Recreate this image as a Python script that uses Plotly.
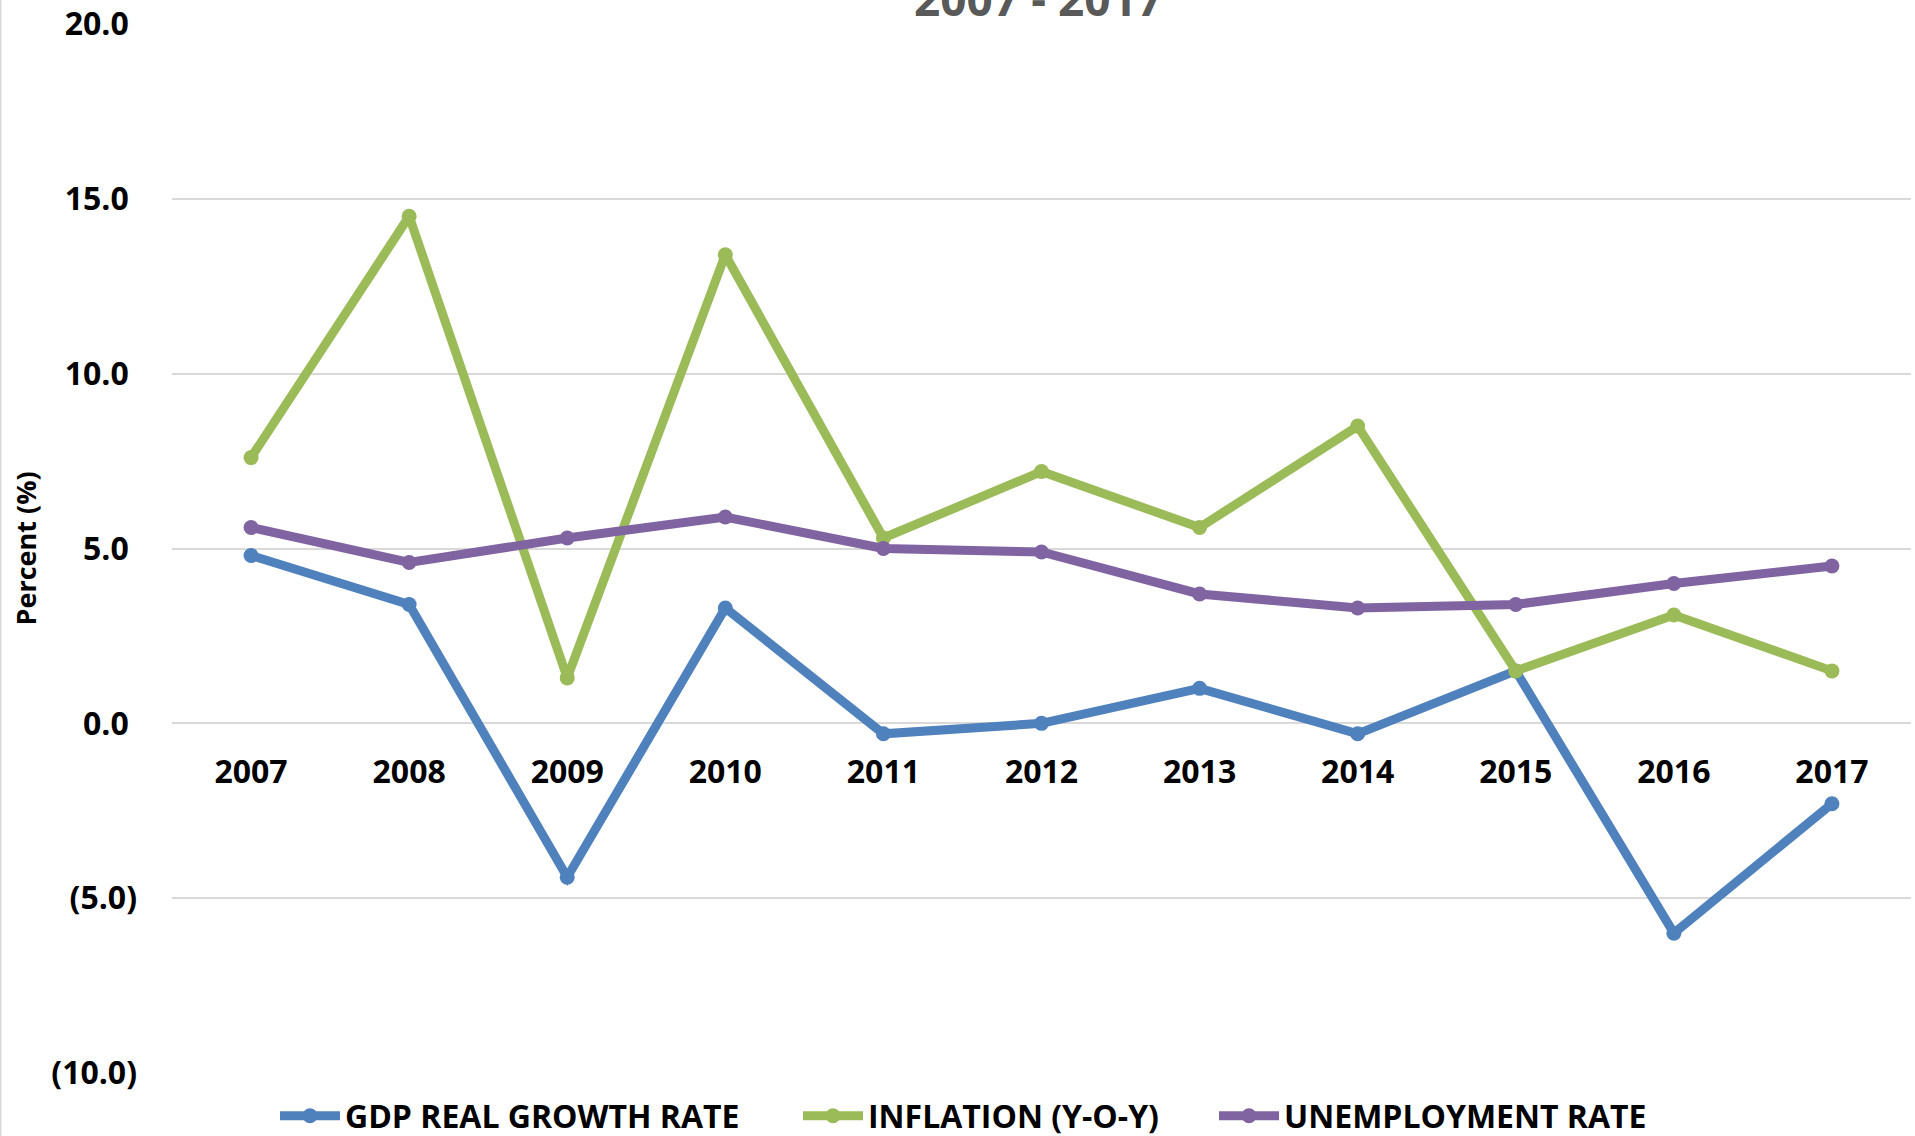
import plotly.graph_objects as go

# Annual indicators, 2007 - 2017 (percent)
years = ["2007", "2008", "2009", "2010", "2011", "2012",
         "2013", "2014", "2015", "2016", "2017"]
gdp_growth = [4.8, 3.4, -4.4, 3.3, -0.3, 0.0, 1.0, -0.3, 1.5, -6.0, -2.3]
inflation = [7.6, 14.5, 1.3, 13.4, 5.3, 7.2, 5.6, 8.5, 1.5, 3.1, 1.5]
unemployment = [5.6, 4.6, 5.3, 5.9, 5.0, 4.9, 3.7, 3.3, 3.4, 4.0, 4.5]

series_names = ["GDP REAL GROWTH RATE", "INFLATION (Y-O-Y)", "UNEMPLOYMENT RATE"]
series_colors = ["#4F81BD", "#9BBB59", "#8064A2"]
legend_widths = [448, 341, 370]

y_ticks = [-10, -5, 0, 5, 10, 15, 20]
# accounting-style labels: negatives in parentheses, positives padded
y_ticktext = [f"({abs(v):.1f})" if v < 0 else f"{v:.1f}\u00a0" for v in y_ticks]

W, H = 1915, 1136
ML, MR, MT, MB = 172, 4, 24, 63
PW = W - ML - MR
PH = H - MT - MB

FONT = "Open Sans"

fig = go.Figure()
for name, vals, col, lw in zip(series_names, [gdp_growth, inflation, unemployment],
                               series_colors, legend_widths):
    fig.add_trace(go.Scatter(
        x=years, y=vals, name=name, mode="lines+markers",
        line=dict(color=col, width=9),
        marker=dict(color=col, size=15),
        legendwidth=lw,
    ))

fig.update_layout(
    width=W, height=H,
    margin=dict(l=ML, r=MR, t=MT, b=MB, autoexpand=False),
    paper_bgcolor="white", plot_bgcolor="white",
    font=dict(family=FONT, color="black", size=32, weight="bold"),
    showlegend=True,
    legend=dict(
        orientation="h", xref="paper", yref="paper",
        x=(275 - ML) / PW, xanchor="left",
        y=(PH + MT - 1116) / PH, yanchor="middle",
        font=dict(family=FONT, size=32, color="black", weight="bold"),
        itemwidth=60, bgcolor="rgba(0,0,0,0)",
    ),
    xaxis=dict(
        type="category", range=[-0.5, 10.5],
        anchor="free", position=1 / 3,
        showgrid=False, showline=False, zeroline=False,
        ticks="", ticklabelstandoff=27,
        tickfont=dict(family=FONT, size=32, color="black", weight="bold"),
    ),
    yaxis=dict(
        range=[-10, 20], tickvals=y_ticks, ticktext=y_ticktext,
        showgrid=True, gridcolor="#D9D9D9", gridwidth=1.5,
        showline=False, zeroline=False,
        ticks="", ticklabelstandoff=34,
        tickfont=dict(family=FONT, size=32, color="black", weight="bold"),
    ),
    annotations=[
        dict(text="Percent (%)", textangle=-90, showarrow=False,
             xref="paper", yref="paper", x=(25 - ML) / PW, y=0.5,
             xanchor="center", yanchor="middle",
             font=dict(family=FONT, size=27, color="black", weight="bold")),
        dict(text="2007 - 2017", showarrow=False,
             xref="paper", yref="paper", x=(1038 - ML) / PW, y=(PH + MT - 31) / PH,
             xanchor="center", yanchor="bottom",
             font=dict(family=FONT, size=46, color="#595959", weight="bold")),
    ],
    shapes=[
        dict(type="line", xref="paper", yref="paper",
             x0=(0.75 - ML) / PW, x1=(0.75 - ML) / PW,
             y0=-MB / PH, y1=1 + MT / PH,
             line=dict(color="#D9D9D9", width=1.5)),
    ],
)

fig.write_html("out.html")
